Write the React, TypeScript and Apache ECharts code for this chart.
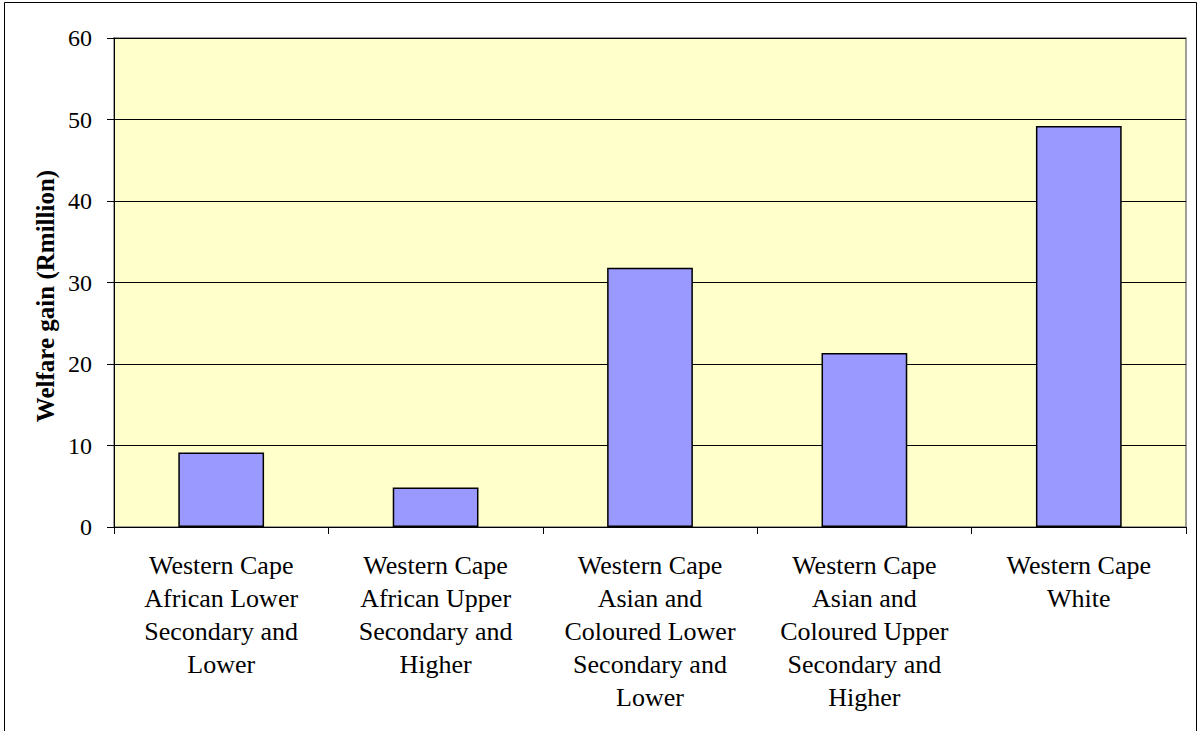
import React, { useEffect, useRef } from "react";
import * as echarts from "echarts";

const categories = [
  "Western Cape\nAfrican Lower\nSecondary and\nLower",
  "Western Cape\nAfrican Upper\nSecondary and\nHigher",
  "Western Cape\nAsian and\nColoured Lower\nSecondary and\nLower",
  "Western Cape\nAsian and\nColoured Upper\nSecondary and\nHigher",
  "Western Cape\nWhite",
];
const values = [9.15, 4.85, 31.8, 21.35, 49.2];
const yAxisTitle = "Welfare gain (Rmillion)";

export default function App() {
  const ref = useRef<HTMLDivElement>(null);
  useEffect(() => {
    document.body.style.margin = "0";
    const chart = echarts.init(ref.current!, null, { renderer: "svg" });
    const font = "'Liberation Serif', 'Times New Roman', serif";
    chart.setOption({
      animation: false,
      backgroundColor: "#ffffff",
      graphic: [
        {
          type: "rect",
          shape: { x: 4.5, y: 2.5, width: 1192, height: 740 },
          style: { fill: "none", stroke: "#000", lineWidth: 1 },
          silent: true,
        },
        {
          type: "text",
          x: 45,
          y: 296,
          rotation: Math.PI / 2,
          style: {
            text: yAxisTitle,
            fontFamily: font,
            fontSize: 25,
            fontWeight: "bold",
            fill: "#000",
            align: "center",
            verticalAlign: "middle",
          },
          silent: true,
        },
      ],
      grid: {
        left: 114,
        top: 38,
        right: 13,
        bottom: 204,
        show: true,
        backgroundColor: "#FFFFCC",
        borderColor: "#808080",
        borderWidth: 1.5,
      },
      xAxis: {
        type: "category",
        data: categories,
        axisLine: { show: true, lineStyle: { color: "#000", width: 1 } },
        axisTick: { show: true, length: 7, alignWithLabel: false, lineStyle: { color: "#000" } },
        axisLabel: {
          interval: 0,
          margin: 22,
          color: "#000",
          fontFamily: font,
          fontSize: 26,
          lineHeight: 33,
          align: "center",
        },
        splitLine: { show: false },
      },
      yAxis: {
        type: "value",
        min: 0,
        max: 60,
        interval: 10,
        axisLine: { show: true, lineStyle: { color: "#000", width: 1 } },
        axisTick: { show: true, length: 7, lineStyle: { color: "#000" } },
        axisLabel: {
          margin: 22,
          color: "#000",
          fontFamily: font,
          fontSize: 24,
        },
        splitLine: { show: true, lineStyle: { color: "#000", width: 1 } },
      },
      series: [
        {
          type: "bar",
          data: values,
          barWidth: "40%",
          itemStyle: { color: "#9999FF", borderColor: "#000", borderWidth: 1.5 },
        },
      ],
    });
    return () => chart.dispose();
  }, []);
  return (
    <div
      ref={ref}
      style={{ position: "absolute", left: 0, top: 0, width: 1199, height: 731 }}
    />
  );
}
